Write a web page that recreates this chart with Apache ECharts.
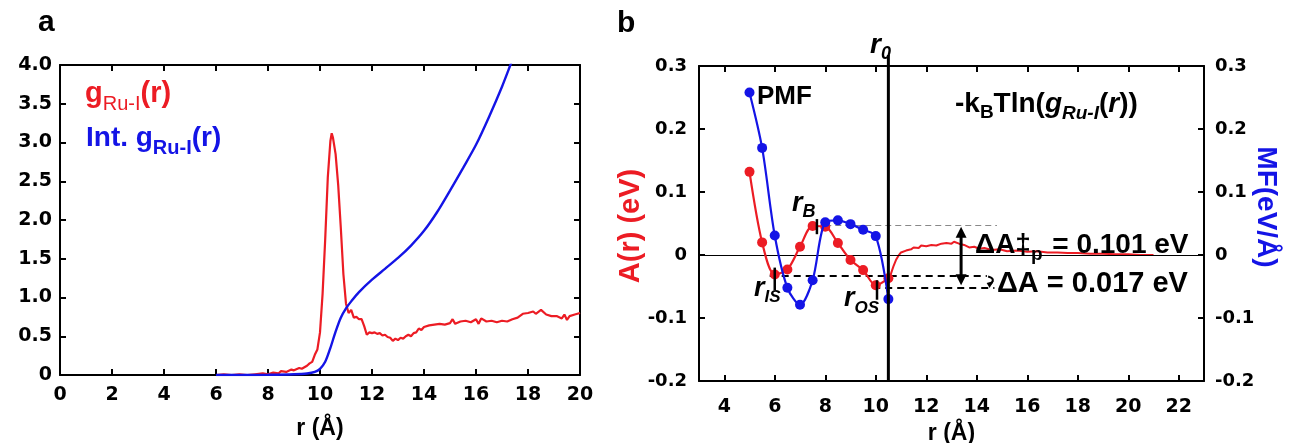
<!DOCTYPE html>
<html><head><meta charset="utf-8">
<script src="https://cdn.jsdelivr.net/npm/echarts@6/dist/echarts.min.js"></script>
<style>html,body{margin:0;padding:0;background:#fff}#c{width:1289px;height:443px}</style>
</head><body><div id="c"></div>
<script>
const FONT = '"Liberation Sans", Arial, sans-serif';
const TICKFONT = '"DejaVu Sans", Verdana, sans-serif';
const RED = '#ec1c24', BLUE = '#1414e6';

// ---------- Panel a data ----------
const aXTicks = [0, 2, 4, 6, 8, 10, 12, 14, 16, 18, 20];
const gRuI = [[6.0,0.00],[6.3,0.01],[6.6,0.00],[6.9,0.01],[7.2,0.00],[7.5,0.01],[7.8,0.02],[8.0,0.01],[8.2,0.03],[8.4,0.02],[8.5,0.05],[8.7,0.04],[8.9,0.07],[9.0,0.06],[9.2,0.09],[9.3,0.08],[9.5,0.12],[9.6,0.15],[9.7,0.17],[9.8,0.26],[9.9,0.33],[10.0,0.55],[10.1,1.05],[10.2,1.75],[10.3,2.55],[10.4,3.02],[10.45,3.12],[10.5,3.06],[10.6,2.85],[10.7,2.45],[10.8,1.90],[10.9,1.30],[11.0,0.92],[11.1,0.80],[11.2,0.84],[11.3,0.74],[11.4,0.75],[11.5,0.72],[11.6,0.72],[11.7,0.63],[11.8,0.52],[11.9,0.55],[12.0,0.54],[12.1,0.55],[12.2,0.53],[12.3,0.54],[12.4,0.51],[12.5,0.52],[12.6,0.49],[12.7,0.48],[12.8,0.44],[12.9,0.47],[13.0,0.45],[13.1,0.48],[13.2,0.47],[13.3,0.50],[13.4,0.52],[13.5,0.50],[13.6,0.54],[13.7,0.55],[13.8,0.60],[13.9,0.58],[14.0,0.62],[14.2,0.64],[14.4,0.65],[14.6,0.66],[14.8,0.65],[15.0,0.67],[15.1,0.72],[15.2,0.66],[15.4,0.69],[15.6,0.70],[15.8,0.68],[16.0,0.72],[16.1,0.66],[16.2,0.73],[16.4,0.69],[16.6,0.70],[16.8,0.68],[17.0,0.70],[17.2,0.69],[17.4,0.72],[17.6,0.74],[17.8,0.79],[18.0,0.80],[18.2,0.82],[18.3,0.79],[18.5,0.84],[18.7,0.78],[18.9,0.76],[19.1,0.76],[19.3,0.73],[19.4,0.78],[19.5,0.71],[19.6,0.76],[19.8,0.78],[20.0,0.80]];
const intG = [[6.0,0.0],[7.0,0.0],[8.0,0.003],[9.0,0.01],[9.5,0.02],[9.8,0.04],[10.0,0.08],[10.2,0.17],[10.4,0.35],[10.6,0.56],[10.8,0.74],[11.0,0.86],[11.2,0.95],[11.5,1.07],[12.0,1.23],[12.5,1.37],[13.0,1.51],[13.5,1.67],[14.0,1.86],[14.5,2.10],[15.0,2.38],[15.5,2.67],[16.0,2.97],[16.5,3.33],[17.0,3.72],[17.3,3.98],[17.6,4.25]];

// ---------- Panel b data ----------
const bXTicks = [4, 6, 8, 10, 12, 14, 16, 18, 20, 22];
const rPts   = [5.0, 5.5, 6.0, 6.5, 7.0, 7.5, 8.0, 8.5, 9.0, 9.5, 10.0, 10.5];
const aPts   = [0.132, 0.020, -0.031, -0.023, 0.013, 0.046, 0.045, 0.019, -0.008, -0.024, -0.048, -0.037];
const pmfPts = [0.258, 0.170, 0.031, -0.052, -0.079, -0.040, 0.052, 0.055, 0.049, 0.040, 0.030, -0.070];
const aTail = [[10.5,-0.037],[10.6,-0.030],[10.7,-0.018],[10.8,-0.008],[10.9,-0.001],[11.0,0.004],[11.2,0.007],[11.4,0.009],[11.5,0.012],[11.7,0.011],[11.8,0.015],[12.0,0.014],[12.2,0.016],[12.4,0.015],[12.6,0.018],[12.8,0.019],[13.0,0.018],[13.1,0.021],[13.3,0.018],[13.5,0.016],[13.7,0.012],[13.9,0.013],[14.1,0.010],[14.3,0.011],[14.6,0.008],[14.9,0.009],[15.2,0.006],[15.6,0.007],[16.0,0.005],[16.4,0.006],[16.8,0.004],[17.2,0.004],[17.6,0.003],[18.0,0.003],[18.5,0.002],[19.0,0.002],[19.5,0.001],[20.0,0.001],[20.5,0.000],[21.0,0.000]];
const r0 = 10.5, rIS = 6.0, rB = 7.67, rOS = 10.05;
const levelBarrier = 0.047, levelIS = -0.033, levelOS = -0.052;

const chart = echarts.init(document.getElementById('c'), null, {renderer: 'canvas'});

const lineAx = {show: true, onZero: false, lineStyle: {color: '#000', width: 2}};
const tickAx = {show: true, inside: true, length: 6, lineStyle: {color: '#000', width: 2}};
const lbl = (size, margin, fmt) => ({show: true, color: '#000', fontSize: size, fontWeight: 'bold', fontFamily: TICKFONT, margin: margin, formatter: fmt});
const fmtA = v => v === 0 ? '0' : v.toFixed(1);
const fmtB = v => { const r = Math.round(v * 10) / 10; return r === 0 ? '0' : r.toFixed(1); };
const titleStyle = {fontSize: 23, fontWeight: 'bold', fontFamily: FONT, color: '#000'};

const option = {
  animation: false,
  backgroundColor: '#fff',
  grid: [
    {left: 60, top: 65, width: 520, height: 310, containLabel: false, outerBoundsMode: 'none'},
    {left: 699, top: 66, width: 505, height: 315, containLabel: false, outerBoundsMode: 'none'}
  ],
  xAxis: [
    {gridIndex: 0, type: 'value', min: 0, max: 20, interval: 2, position: 'bottom', axisLine: lineAx, axisTick: tickAx, splitLine: {show: false}, axisLabel: lbl(19, 11),
     name: 'r (Å)', nameLocation: 'middle', nameGap: 42, nameTextStyle: titleStyle},
    {gridIndex: 0, type: 'value', min: 0, max: 20, interval: 2, position: 'top', axisLine: lineAx, axisTick: tickAx, splitLine: {show: false}, axisLabel: {show: false}},
    {gridIndex: 1, type: 'value', min: 3, max: 23, position: 'bottom', axisLine: lineAx,
     axisTick: Object.assign({}, tickAx, {customValues: bXTicks}), splitLine: {show: false},
     axisLabel: Object.assign(lbl(19, 17), {customValues: bXTicks}),
     name: 'r (Å)', nameLocation: 'middle', nameGap: 37, nameTextStyle: titleStyle},
    {gridIndex: 1, type: 'value', min: 3, max: 23, position: 'top', axisLine: lineAx,
     axisTick: Object.assign({}, tickAx, {customValues: bXTicks}), splitLine: {show: false}, axisLabel: {show: false}}
  ],
  yAxis: [
    {gridIndex: 0, type: 'value', min: 0, max: 4, interval: 0.5, position: 'left', axisLine: lineAx, axisTick: tickAx, splitLine: {show: false}, axisLabel: lbl(19, 8, fmtA)},
    {gridIndex: 0, type: 'value', min: 0, max: 4, interval: 0.5, position: 'right', axisLine: lineAx, axisTick: tickAx, splitLine: {show: false}, axisLabel: {show: false}},
    {gridIndex: 1, type: 'value', min: -0.2, max: 0.3, interval: 0.1, position: 'left', axisLine: lineAx, axisTick: tickAx, splitLine: {show: false}, axisLabel: lbl(18, 12, fmtB)},
    {gridIndex: 1, type: 'value', min: -0.2, max: 0.3, interval: 0.1, position: 'right', axisLine: lineAx, axisTick: tickAx, splitLine: {show: false}, axisLabel: lbl(18, 11, fmtB)}
  ],
  series: [
    {type: 'line', xAxisIndex: 0, yAxisIndex: 0, data: gRuI, showSymbol: false, symbol: 'none', lineStyle: {color: RED, width: 2.2}, z: 3},
    {type: 'line', xAxisIndex: 0, yAxisIndex: 0, data: intG, smooth: 0.3, showSymbol: false, symbol: 'none', lineStyle: {color: BLUE, width: 2.4}, z: 4},
    {type: 'line', xAxisIndex: 2, yAxisIndex: 2, data: aTail, showSymbol: false, symbol: 'none', lineStyle: {color: RED, width: 2}, z: 3,
     markLine: {silent: true, symbol: 'none', label: {show: false}, animation: false,
       data: [
         {yAxis: 0, lineStyle: {color: '#000', width: 1.2, type: 'solid'}},
         [{coord: [8.0, levelBarrier]}, {coord: [14.8, levelBarrier], lineStyle: {color: '#888', width: 1.2, type: [6, 4]}}],
         [{coord: [5.8, levelIS]}, {coord: [14.4, levelIS], lineStyle: {color: '#000', width: 2, type: [7, 5]}}],
         [{coord: [9.9, levelOS]}, {coord: [14.7, levelOS], lineStyle: {color: '#000', width: 2, type: [7, 5]}}]
       ]}},
    {type: 'line', xAxisIndex: 2, yAxisIndex: 2, data: rPts.map((r, i) => [r, aPts[i]]), smooth: 0.3, symbol: 'circle', symbolSize: 10, showSymbol: true,
     itemStyle: {color: RED}, lineStyle: {color: RED, width: 2.2}, z: 5},
    {type: 'line', xAxisIndex: 2, yAxisIndex: 3, data: rPts.map((r, i) => [r, pmfPts[i]]), smooth: 0.3, symbol: 'circle', symbolSize: 10, showSymbol: true,
     itemStyle: {color: BLUE}, lineStyle: {color: BLUE, width: 2.2}, z: 6}
  ]
};
chart.setOption(option);

// ---------- annotations ----------
const cv = document.createElement('canvas').getContext('2d');
function seq(x, baseline, segs, color) {
  const els = []; let cx = x;
  segs.forEach(s => {
    const size = s.size, weight = s.weight || 'bold', fst = s.italic ? 'italic' : 'normal';
    cv.font = `${fst} ${weight} ${size}px ${FONT}`;
    const w = cv.measureText(s.t).width;
    els.push({type: 'text', x: cx, y: baseline + (s.dy || 0) - 0.35 * size, z: 50,
      style: {text: s.t, fill: s.color || color, fontSize: size, fontWeight: weight, fontStyle: fst, fontFamily: FONT,
              align: 'left', verticalAlign: 'middle', textAlign: 'left', textVerticalAlign: 'middle'}});
    cx += w + (s.gap || 0);
  });
  return els;
}
const P = (r, v) => chart.convertToPixel({gridIndex: 1}, [r, v]);
const seg = (a, b, w, col) => ({type: 'line', z: 40, shape: {x1: a[0], y1: a[1], x2: b[0], y2: b[1]}, style: {stroke: col || '#000', lineWidth: w}});
const tri = (tip, dir, w, h) => ({type: 'polygon', z: 40, shape: {points: [[tip[0], tip[1]], [tip[0] - w / 2, tip[1] + dir * h], [tip[0] + w / 2, tip[1] + dir * h]]}, style: {fill: '#000'}});

const g = [];
// panel letters
g.push(...seq(38, 33, [{t: 'a', size: 30}], '#000'));
g.push(...seq(617, 34, [{t: 'b', size: 30}], '#000'));
// panel a legend
g.push(...seq(85, 104, [{t: 'g', size: 29}, {t: 'Ru-I', size: 20, weight: 'normal', dy: 7}, {t: '(r)', size: 29}], RED));
g.push(...seq(86, 148, [{t: 'Int. g', size: 28}, {t: 'Ru-I', size: 20, dy: 7}, {t: '(r)', size: 28}], BLUE));
// panel b labels
g.push(...seq(757, 106, [{t: 'PMF', size: 26}], '#000'));
g.push(...seq(955, 114, [{t: '-k', size: 28}, {t: 'B', size: 19, dy: 5}, {t: 'Tln(', size: 28}, {t: 'g', size: 28, italic: true}, {t: 'Ru-I', size: 19, italic: true, dy: 6}, {t: '(', size: 28}, {t: 'r', size: 28, italic: true}, {t: '))', size: 28}], '#000'));
g.push(...seq(870, 55, [{t: 'r', size: 28, italic: true}, {t: '0', size: 18, italic: true, dy: 5}], '#000'));
g.push(...seq(792, 213, [{t: 'r', size: 27, italic: true}, {t: 'B', size: 18, italic: true, dy: 5}], '#000'));
g.push(...seq(754, 298, [{t: 'r', size: 27, italic: true}, {t: 'IS', size: 17, italic: true, dy: 5}], '#000'));
g.push(...seq(844, 308, [{t: 'r', size: 27, italic: true}, {t: 'OS', size: 17, italic: true, dy: 6}], '#000'));
g.push(...seq(975, 255, [{t: 'ΔA‡', size: 28}, {t: 'p', size: 19, dy: 6, gap: 2}, {t: ' = 0.101 eV', size: 28}], '#000'));
g.push(...seq(997, 294, [{t: 'ΔA = 0.017 eV', size: 29}], '#000'));
// axis titles (rotated)
g.push({type: 'text', x: 631, y: 226, rotation: Math.PI / 2, z: 50, style: {text: 'A(r) (eV)', fill: RED, fontSize: 29, fontWeight: 'bold', fontFamily: FONT, align: 'center', verticalAlign: 'middle', textAlign: 'center', textVerticalAlign: 'middle'}});
g.push({type: 'text', x: 1266, y: 207, rotation: -Math.PI / 2, z: 50, style: {text: 'MF(eV/Å)', fill: BLUE, fontSize: 28, fontWeight: 'bold', fontFamily: FONT, align: 'center', verticalAlign: 'middle', textAlign: 'center', textVerticalAlign: 'middle'}});
// r0 vertical line (extends above frame)
const r0b = P(r0, -0.2), r0t = P(r0, 0.3);
g.push(seg([r0b[0], r0b[1]], [r0t[0], r0t[1] - 11], 3));
// marker bars
const bTop = P(rB, 0.057), bBot = P(rB, 0.033); g.push(seg(bTop, bBot, 2.5));
const iTop = P(rIS, -0.020), iBot = P(rIS, -0.056); g.push(seg(iTop, iBot, 2.5));
const oTop = P(rOS, -0.040), oBot = P(rOS, -0.071); g.push(seg(oTop, oBot, 2.5));
// double arrow
const rA = 13.38;
const aT = P(rA, levelBarrier - 0.002), aB = P(rA, levelOS + 0.004);
g.push(seg([aT[0], aT[1] + 8], [aB[0], aB[1] - 8], 3));
g.push(tri(aT, 1, 11, 11));
g.push(tri(aB, -1, 11, 11));
// small hook arrow between levels
const h1 = P(14.45, levelIS - 0.001), h2 = P(14.55, levelOS + 0.006);
g.push({type: 'bezierCurve', z: 40, shape: {x1: h1[0], y1: h1[1], x2: h2[0], y2: h2[1], cpx1: h1[0] + 8, cpy1: h1[1] + 2}, style: {stroke: '#000', lineWidth: 2, fill: 'none'}});
g.push({type: 'polygon', z: 40, shape: {points: [[h2[0] - 4, h2[1] - 1], [h2[0] + 3, h2[1] - 3], [h2[0] - 1, h2[1] + 4]]}, style: {fill: '#000'}});

chart.setOption({graphic: {elements: g}});
</script></body></html>
